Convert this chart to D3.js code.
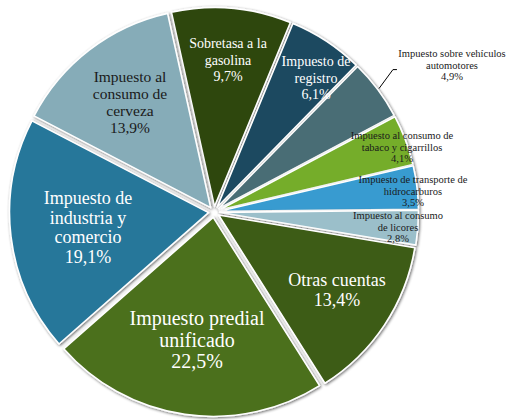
<!DOCTYPE html>
<html>
<head>
<meta charset="utf-8">
<script src="https://cdn.jsdelivr.net/npm/d3@7"></script>
<style>
  html, body { margin: 0; padding: 0; background: #ffffff; }
  svg { display: block; }
</style>
</head>
<body>
<svg id="chart" width="508" height="420"></svg>
<script>
// Composition of revenue, clockwise from the top
const categories = [
  "Sobretasa a la gasolina",
  "Impuesto de registro",
  "Impuesto sobre vehículos automotores",
  "Impuesto al consumo de tabaco y cigarrillos",
  "Impuesto de transporte de hidrocarburos",
  "Impuesto al consumo de licores",
  "Otras cuentas",
  "Impuesto predial unificado",
  "Impuesto de industria y comercio",
  "Impuesto al consumo de cerveza"
];
const values = [9.7, 6.1, 4.9, 4.1, 3.5, 2.8, 13.4, 22.5, 19.1, 13.9];

// Label lines as they are broken inside each slice
const labelLines = [
  ["Sobretasa a la", "gasolina"],
  ["Impuesto de", "registro"],
  ["Impuesto sobre vehículos", "automotores"],
  ["Impuesto al consumo de", "tabaco y cigarrillos"],
  ["Impuesto de transporte de", "hidrocarburos"],
  ["Impuesto al consumo", "de licores"],
  ["Otras cuentas"],
  ["Impuesto  predial", "unificado"],
  ["Impuesto de", "industria y", "comercio"],
  ["Impuesto al", "consumo de", "cerveza"]
];

const palette = ["#2e4711", "#1b4a60", "#4a6d75", "#74ad2c", "#379bd0",
                 "#9bbfca", "#3c5b15", "#4b6f1c", "#28779a", "#86acb8"];
const textColor = ["#ffffff", "#ffffff", "#1a1a1a", "#1a1a1a", "#1a1a1a",
                   "#1a1a1a", "#ffffff", "#ffffff", "#ffffff", "#1a1a1a"];
const fontSize = [14, 14, 10.5, 10.5, 10.5, 10.5, 18, 20, 18, 15.5];
const lineStep = [16.5, 16.5, 11.5, 11.5, 11.5, 11.5, 19.5, 21.5, 19.5, 17];
// Text block anchors (centre x, first baseline y)
const labelAt = [
  [228, 48], [316, 66], [452, 57], [402, 139], [413, 183],
  [398, 219], [337, 286], [197, 325], [88, 204], [130, 82]
];

const fmt = v => d3.format(".1f")(v).replace(".", ",") + "%";

const svg = d3.select("#chart");
const cx = 214, cy = 212, radius = 199, explode = 5.5;

const defs = svg.append("defs");
const shadow = defs.append("filter").attr("id", "sliceShadow")
  .attr("x", "-20%").attr("y", "-20%").attr("width", "140%").attr("height", "140%");
shadow.append("feGaussianBlur").attr("in", "SourceAlpha").attr("stdDeviation", 1.7).attr("result", "blur");
shadow.append("feOffset").attr("in", "blur").attr("dx", 0.6).attr("dy", 0.8).attr("result", "off");
shadow.append("feComponentTransfer").attr("in", "off").attr("result", "soft")
  .append("feFuncA").attr("type", "linear").attr("slope", 0.6);
const merge = shadow.append("feMerge");
merge.append("feMergeNode").attr("in", "soft");
merge.append("feMergeNode").attr("in", "SourceGraphic");

const start = -12.5 * Math.PI / 180;
const pie = d3.pie().sort(null).value(d => d)
  .startAngle(start).endAngle(start + 2 * Math.PI);
const arcs = pie(values);
const arc = d3.arc().innerRadius(0).outerRadius(radius);

const g = svg.append("g").attr("transform", `translate(${cx},${cy})`);

g.selectAll("path.slice")
  .data(arcs)
  .join("path")
  .attr("class", "slice")
  .attr("d", arc)
  .attr("fill", (d, i) => palette[i])
  .attr("stroke", "#ffffff")
  .attr("stroke-width", 1.6)
  .attr("stroke-linejoin", "round")
  .attr("filter", "url(#sliceShadow)")
  .attr("transform", d => {
    const mid = (d.startAngle + d.endAngle) / 2;
    return `translate(${explode * Math.sin(mid)},${-explode * Math.cos(mid)})`;
  });

// Leader line for the label placed outside the pie
const vIdx = 2;
const vArc = arcs[vIdx];
const vMid = (vArc.startAngle + vArc.endAngle) / 2;
const rEdge = radius + explode + 1.5;
const p0 = [cx + rEdge * Math.sin(vMid), cy - rEdge * Math.cos(vMid)];
svg.append("polyline")
  .attr("points", [p0, [p0[0] + 14, p0[1] - 19], [p0[0] + 18, p0[1] - 19]].map(p => p.join(",")).join(" "))
  .attr("fill", "none")
  .attr("stroke", "#000000")
  .attr("stroke-width", 1);

// Slice labels
const labels = svg.selectAll("text.lab")
  .data(arcs)
  .join("text")
  .attr("class", "lab")
  .style("font-family", "Liberation Serif")
  .attr("text-anchor", "middle")
  .attr("fill", (d, i) => textColor[i])
  .attr("font-size", (d, i) => fontSize[i]);

labels.each(function(d, i) {
  const t = d3.select(this);
  const lines = labelLines[i].concat([fmt(values[i])]);
  lines.forEach((s, k) => {
    t.append("tspan")
      .attr("x", labelAt[i][0])
      .attr("y", labelAt[i][1] + k * lineStep[i])
      .text(s);
  });
});
</script>
</body>
</html>
